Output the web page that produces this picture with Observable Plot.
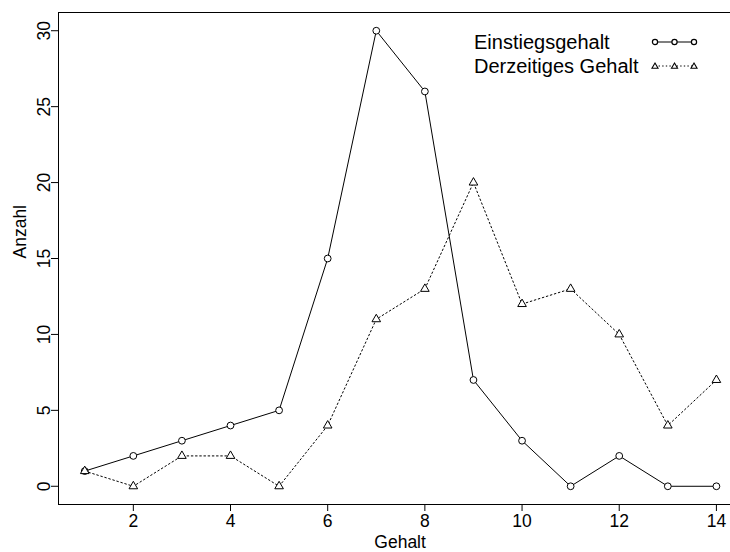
<!DOCTYPE html>
<html>
<head>
<meta charset="utf-8">
<script src="https://cdn.jsdelivr.net/npm/d3@7"></script>
<script src="https://cdn.jsdelivr.net/npm/@observablehq/plot@0.6"></script>
<style>
  body { margin: 0; background: #fff; }
  #wrap { position: relative; width: 730px; height: 552px; font-family: "Liberation Sans", Arial, sans-serif; }
  #legend { position: absolute; left: 474px; top: 30px; font-size: 20px; color: #000; line-height: 24px; }
  #legend .row { display: flex; align-items: center; height: 24px; }
  #legend .lab { width: 176px; white-space: nowrap; }
</style>
</head>
<body>
<div id="wrap"></div>
<script>
const gehalt = [1, 2, 3, 4, 5, 6, 7, 8, 9, 10, 11, 12, 13, 14];
const einstieg = [1, 2, 3, 4, 5, 15, 30, 26, 7, 3, 0, 2, 0, 0];
const derzeit = [1, 0, 2, 2, 0, 4, 11, 13, 20, 12, 13, 10, 4, 7];
const seriesNames = ["Einstiegsgehalt", "Derzeitiges Gehalt"];
const xTicks = [2, 4, 6, 8, 10, 12, 14];
const yTicks = [0, 5, 10, 15, 20, 25, 30];
const xDomain = [0.46, 14.29];
const yDomain = [-1.2, 31.2];

const d1 = gehalt.map((g, i) => ({g, n: einstieg[i]}));
const d2 = gehalt.map((g, i) => ({g, n: derzeit[i]}));
const font = '"Liberation Sans", Arial, sans-serif';

const chart = Plot.plot({
  width: 730,
  height: 552,
  marginLeft: 58,
  marginTop: 12,
  marginBottom: 48,
  marginRight: 0,
  style: {fontFamily: font, fontSize: "17.5px", color: "#000", background: "#fff"},
  x: {domain: xDomain},
  y: {domain: yDomain},
  marks: [
    Plot.ruleX([xDomain[0]], {stroke: "#000", strokeWidth: 1}),
    Plot.ruleY([yDomain[0]], {stroke: "#000", strokeWidth: 1}),
    Plot.ruleY([yDomain[1]], {stroke: "#000", strokeWidth: 1}),
    Plot.axisX({ticks: xTicks, tickSize: 7, tickPadding: 3, label: null, fontSize: 17.5}),
    Plot.axisY({ticks: yTicks, tickSize: 7, tickPadding: 2, tickRotate: -90, label: null, fontSize: 17.5}),
    Plot.text(["Gehalt"], {x: (xDomain[0] + 14.52) / 2, frameAnchor: "bottom", dy: 38, fontSize: 17.5, lineAnchor: "middle"}),
    Plot.text(["Anzahl"], {y: (yDomain[0] + yDomain[1]) / 2, frameAnchor: "left", dx: -38, rotate: -90, fontSize: 17.5}),
    Plot.line(d1, {x: "g", y: "n", stroke: "#000", strokeWidth: 1}),
    Plot.line(d2, {x: "g", y: "n", stroke: "#000", strokeWidth: 1, strokeDasharray: "1.6,2.6"}),
    Plot.dot(d1, {x: "g", y: "n", r: 3.4, stroke: "#000", fill: "#fff", strokeWidth: 1}),
    Plot.dot(d2, {x: "g", y: "n", r: 3.2, symbol: "triangle", stroke: "#000", fill: "#fff", strokeWidth: 1})
  ]
});

const wrap = document.getElementById("wrap");
wrap.appendChild(chart);

const legend = document.createElement("div");
legend.id = "legend";
const swatches = [
  `<svg width="50" height="24"><line x1="5" x2="44" y1="12" y2="12" stroke="#000" stroke-width="1.2"/>` +
    [5, 24.5, 44].map(x => `<circle cx="${x}" cy="12" r="2.6" fill="#fff" stroke="#000" stroke-width="1.2"/>`).join("") + `</svg>`,
  `<svg width="50" height="24"><line x1="5" x2="44" y1="12" y2="12" stroke="#000" stroke-dasharray="1.4,2.2"/>` +
    [5, 24.5, 44].map(x => `<path d="${d3.symbol(d3.symbolTriangle, 16)()}" transform="translate(${x},12.5)" fill="#fff" stroke="#000" stroke-width="1.1"/>`).join("") + `</svg>`
];
legend.innerHTML = seriesNames.map((s, i) =>
  `<div class="row"><span class="lab">${s}</span>${swatches[i]}</div>`).join("");
wrap.appendChild(legend);
</script>
</body>
</html>
